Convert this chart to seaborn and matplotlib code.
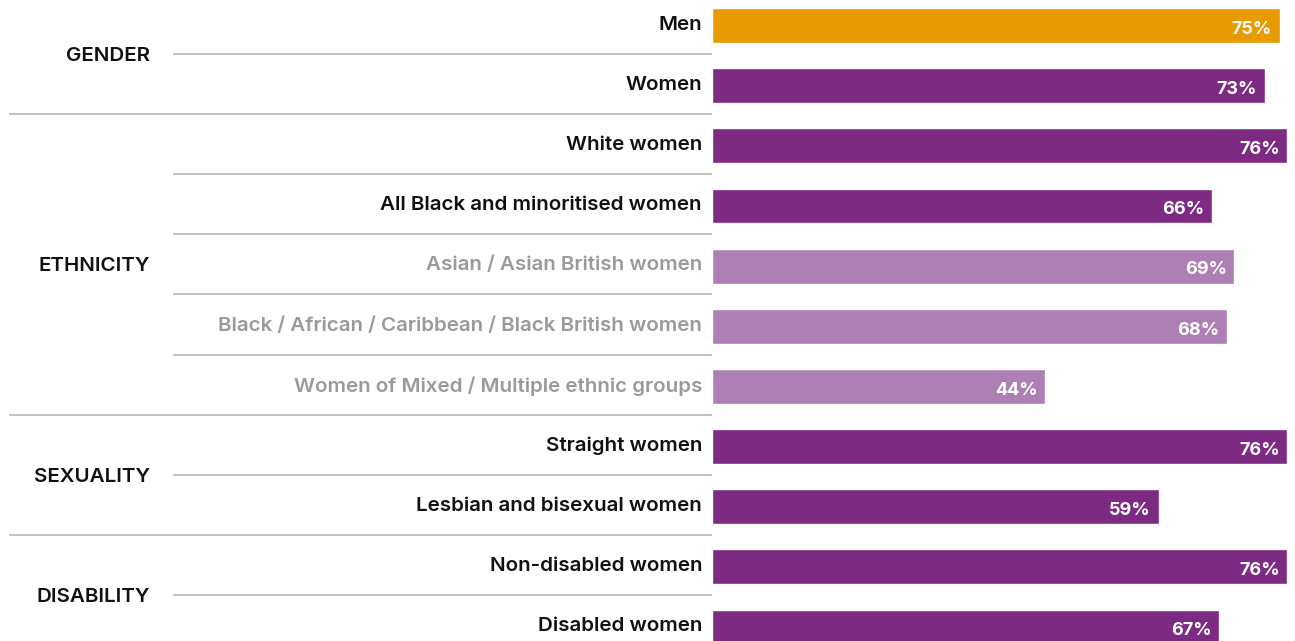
import matplotlib
matplotlib.use("Agg")
import matplotlib.pyplot as plt
import matplotlib.transforms as mtransforms
import seaborn as sns
import pandas as pd

# Data
categories = [
    "Men", "Women",
    "White women", "All Black and minoritised women",
    "Asian / Asian British women",
    "Black / African / Caribbean / Black British women",
    "Women of Mixed / Multiple ethnic groups",
    "Straight women", "Lesbian and bisexual women",
    "Non-disabled women", "Disabled women",
]
values = [75, 73, 76, 66, 69, 68, 44, 76, 59, 76, 67]
groups = ["GENDER", "ETHNICITY", "SEXUALITY", "DISABILITY"]
group_sizes = [2, 5, 2, 2]
subgroup_rows = [4, 5, 6]  # lighter ethnic breakdown rows

ORANGE = "#E89B00"
PURPLE = "#7D2A83"
LILAC = "#AD7FB5"
GREY_TXT = "#9A9A9A"
LINE = "#B8B8B8"

colors = []
for i in range(len(categories)):
    if i == 0:
        colors.append(ORANGE)
    elif i in subgroup_rows:
        colors.append(LILAC)
    else:
        colors.append(PURPLE)

df = pd.DataFrame({"category": categories, "value": values})

sns.set_theme(style="white")
plt.rcParams["font.family"] = ["Inter", "DejaVu Sans"]

W, H, DPI = 1295, 641, 100
fig = plt.figure(figsize=(W / DPI, H / DPI), dpi=DPI)
ax = fig.add_axes([712 / W, 0, (W - 712) / W, 1])

sns.barplot(data=df, x="value", y="category", hue="category",
            palette=colors, legend=False, orient="h", width=0.58,
            saturation=1, ax=ax)

px_per_pct = 7.57
row_px = 60.15
top_center = 25.5
ax.set_xlim(0, (W - 712) / px_per_pct)
ax.set_ylim((H - top_center) / row_px, -top_center / row_px)
ax.axis("off")

# value labels inside bar ends
for i, v in enumerate(values):
    ax.annotate(f"{v}%", xy=(v, i), xytext=(-5.5, -2.8),
                textcoords="offset points", ha="right", va="center",
                color="white", fontsize=13, fontweight="bold")

mixed = mtransforms.blended_transform_factory(fig.transFigure, ax.transData)

# category labels
for i, c in enumerate(categories):
    ax.text(702 / W, i - 0.01, c, transform=mixed, ha="right", va="center",
            fontsize=14.8, fontweight="semibold",
            color=GREY_TXT if i in subgroup_rows else "#111111")

# separators and group labels
start = 0
for g, n in zip(groups, group_sizes):
    end = start + n
    mid = (start + end - 1) / 2
    ax.text(150 / W, mid, g, transform=mixed, ha="right", va="center",
            fontsize=14.8, fontweight="semibold", color="#111111")
    for k in range(start, end - 1):
        y = k + 0.5 - 0.03
        ax.plot([173 / W, 712 / W], [y, y], transform=mixed, color=LINE,
                lw=1.2, clip_on=False, solid_capstyle="butt")
    if end < len(categories):
        y = end - 0.5 - 0.03
        ax.plot([9 / W, 712 / W], [y, y], transform=mixed, color=LINE,
                lw=1.2, clip_on=False, solid_capstyle="butt")
    start = end

fig.savefig("out.png", dpi=DPI)
